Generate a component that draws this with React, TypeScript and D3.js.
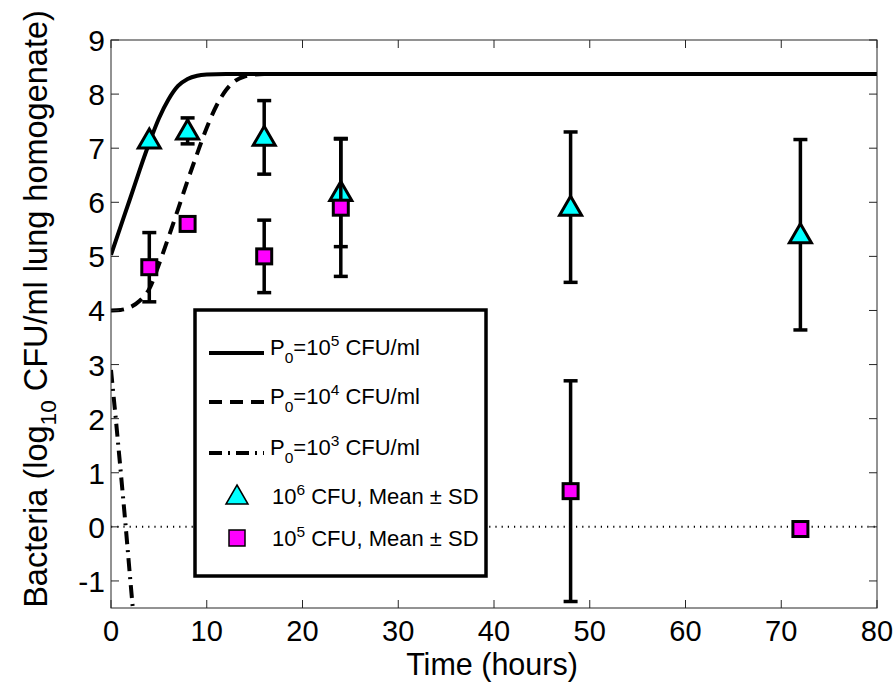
import React, { useEffect, useRef } from "react";
import * as d3 from "d3";

// ---- data ----
const xTicks = [0, 10, 20, 30, 40, 50, 60, 70, 80];
const yTicks = [-1, 0, 1, 2, 3, 4, 5, 6, 7, 8, 9];

// model curves
const solidT = [0, 1, 2, 3, 4, 5, 6, 7, 8, 9, 10, 12, 80];
const solidY = [5.03, 5.55, 6.07, 6.6, 7.1, 7.55, 7.9, 8.15, 8.28, 8.34, 8.36, 8.37, 8.37];
const dashedT = [0, 1, 2, 3, 4, 5, 6, 7, 8, 9, 10, 11, 12, 13, 14, 15, 16, 80];
const dashedY = [4.0, 4.01, 4.06, 4.18, 4.4, 4.85, 5.35, 5.87, 6.4, 6.9, 7.38, 7.78, 8.07, 8.25, 8.33, 8.36, 8.37, 8.37];
const dashDotT = [0, 0.5, 1, 1.5, 2, 2.3];
const dashDotY = [2.9, 2.0, 1.05, 0.08, -0.95, -1.55];

// observed data
const obsTimes = [4, 8, 16, 24, 48, 72];
const triMean = [7.15, 7.32, 7.2, 6.18, 5.91, 5.4];
const triSD = [0.0, 0.24, 0.68, 1.0, 1.39, 1.76];
const sqMean = [4.8, 5.6, 5.0, 5.9, 0.66, -0.04];
const sqSD = [0.64, 0.0, 0.67, 1.27, 2.04, 0.0];

const legendLabels = [
  { base: "10", sup: "5" },
  { base: "10", sup: "4" },
  { base: "10", sup: "3" },
];
const markerLabels = [
  { sup: "6", rest: " CFU, Mean \u00b1 SD" },
  { sup: "5", rest: " CFU, Mean \u00b1 SD" },
];

const W = 893;
const H = 683;
const M = { left: 111, right: 877, top: 40, bottom: 608 };
const FONT = "'Liberation Sans', Arial, Helvetica, sans-serif";

export default function App() {
  const ref = useRef<SVGSVGElement | null>(null);

  useEffect(() => {
    const svg = d3.select(ref.current);
    svg.selectAll("*").remove();

    const x = d3.scaleLinear().domain([0, 80]).range([M.left, M.right]);
    const y = d3.scaleLinear().domain([-1.5, 9]).range([M.bottom, M.top]);

    svg.append("rect").attr("width", W).attr("height", H).attr("fill", "white");

    const defs = svg.append("defs");
    defs
      .append("clipPath")
      .attr("id", "plotclip")
      .append("rect")
      .attr("x", M.left)
      .attr("y", M.top)
      .attr("width", M.right - M.left)
      .attr("height", M.bottom - M.top);

    const plot = svg.append("g").attr("clip-path", "url(#plotclip)");

    const line = d3
      .line<[number, number]>()
      .x((d) => x(d[0]))
      .y((d) => y(d[1]))
      .curve(d3.curveMonotoneX);

    const zip = (a: number[], b: number[]) => a.map((v, i) => [v, b[i]] as [number, number]);

    // dotted zero line
    plot
      .append("line")
      .attr("x1", x(0))
      .attr("x2", x(80))
      .attr("y1", y(0))
      .attr("y2", y(0))
      .attr("stroke", "#000")
      .attr("stroke-width", 2)
      .attr("stroke-dasharray", "1.2,5");

    plot
      .append("path")
      .attr("d", line(zip(solidT, solidY)))
      .attr("fill", "none")
      .attr("stroke", "#000")
      .attr("stroke-width", 4);
    plot
      .append("path")
      .attr("d", line(zip(dashedT, dashedY)))
      .attr("fill", "none")
      .attr("stroke", "#000")
      .attr("stroke-width", 4)
      .attr("stroke-dasharray", "13,8");
    plot
      .append("path")
      .attr("d", d3.line<[number, number]>().x((d) => x(d[0])).y((d) => y(d[1]))(zip(dashDotT, dashDotY)))
      .attr("fill", "none")
      .attr("stroke", "#000")
      .attr("stroke-width", 4)
      .attr("stroke-dasharray", "13,6,2,6");

    // error bars + markers
    const drawErr = (means: number[], sds: number[]) => {
      obsTimes.forEach((t, i) => {
        const sd = sds[i];
        if (sd <= 0) return;
        const cx = x(t);
        const g = plot.append("g").attr("stroke", "#000").attr("stroke-width", 3.5);
        g.append("line").attr("x1", cx).attr("x2", cx).attr("y1", y(means[i] - sd)).attr("y2", y(means[i] + sd));
        [means[i] - sd, means[i] + sd].forEach((v) => {
          g.append("line").attr("x1", cx - 7).attr("x2", cx + 7).attr("y1", y(v)).attr("y2", y(v));
        });
      });
    };

    drawErr(triMean, triSD);
    obsTimes.forEach((t, i) => {
      const cx = x(t);
      const cy = y(triMean[i]);
      plot
        .append("path")
        .attr("d", `M${cx},${cy - 11} L${cx + 11},${cy + 8} L${cx - 11},${cy + 8} Z`)
        .attr("fill", "#00ffff")
        .attr("stroke", "#000")
        .attr("stroke-width", 3);
    });
    drawErr(sqMean, sqSD);
    obsTimes.forEach((t, i) => {
      const cx = x(t);
      const cy = y(sqMean[i]);
      plot
        .append("rect")
        .attr("x", cx - 7.5)
        .attr("y", cy - 7.5)
        .attr("width", 15)
        .attr("height", 15)
        .attr("fill", "#ff00ff")
        .attr("stroke", "#000")
        .attr("stroke-width", 3);
    });

    // axes box
    const axisColor = "#262626";
    svg
      .append("rect")
      .attr("x", M.left)
      .attr("y", M.top)
      .attr("width", M.right - M.left)
      .attr("height", M.bottom - M.top)
      .attr("fill", "none")
      .attr("stroke", axisColor)
      .attr("stroke-width", 1);

    const tickLen = 8;
    xTicks.forEach((t) => {
      const px = x(t);
      svg.append("line").attr("x1", px).attr("x2", px).attr("y1", M.bottom).attr("y2", M.bottom - tickLen).attr("stroke", axisColor);
      svg.append("line").attr("x1", px).attr("x2", px).attr("y1", M.top).attr("y2", M.top + tickLen).attr("stroke", axisColor);
      svg
        .append("text")
        .attr("x", px)
        .attr("y", 641)
        .attr("text-anchor", "middle")
        .attr("font-family", FONT)
        .attr("font-size", 29)
        .text(String(t));
    });
    yTicks.forEach((t) => {
      const py = y(t);
      svg.append("line").attr("x1", M.left).attr("x2", M.left + tickLen).attr("y1", py).attr("y2", py).attr("stroke", axisColor);
      svg.append("line").attr("x1", M.right).attr("x2", M.right - tickLen).attr("y1", py).attr("y2", py).attr("stroke", axisColor);
      svg
        .append("text")
        .attr("x", M.left - 6)
        .attr("y", py + 11)
        .attr("text-anchor", "end")
        .attr("font-family", FONT)
        .attr("font-size", 30)
        .text(String(t));
    });

    // axis titles
    svg
      .append("text")
      .attr("x", 492)
      .attr("y", 675)
      .attr("text-anchor", "middle")
      .attr("font-family", FONT)
      .attr("font-size", 30.5)
      .text("Time (hours)");

    const yl = svg
      .append("text")
      .attr("transform", `translate(47,${309}) rotate(-90)`)
      .attr("text-anchor", "middle")
      .attr("font-family", FONT)
      .attr("font-size", 32.5);
    yl.append("tspan").text("Bacteria (log");
    yl.append("tspan").attr("font-size", 22.5).attr("dy", 9).text("10");
    yl.append("tspan").attr("dy", -9).text(" CFU/ml lung homogenate)");

    // legend
    const lg = svg.append("g");
    lg.append("rect")
      .attr("x", 195)
      .attr("y", 310)
      .attr("width", 291)
      .attr("height", 266)
      .attr("fill", "white")
      .attr("stroke", "#000")
      .attr("stroke-width", 3.5);

    const rows = [353, 402, 453];
    const dashes = [null, "13,8", "13,6,2,6"];
    legendLabels.forEach((lab, i) => {
      const ly = rows[i];
      const l = lg
        .append("line")
        .attr("x1", 209)
        .attr("x2", 264)
        .attr("y1", ly)
        .attr("y2", ly)
        .attr("stroke", "#000")
        .attr("stroke-width", 4);
      if (dashes[i]) l.attr("stroke-dasharray", dashes[i] as string);
      const tx = lg
        .append("text")
        .attr("x", 270)
        .attr("y", ly + 2)
        .attr("font-family", FONT)
        .attr("font-size", 22);
      tx.append("tspan").text("P");
      tx.append("tspan").attr("font-size", 15.5).attr("dy", 8).text("0");
      tx.append("tspan").attr("dy", -8).text("=" + lab.base);
      tx.append("tspan").attr("font-size", 15.5).attr("dy", -9).text(lab.sup);
      tx.append("tspan").attr("dy", 9).text(" CFU/ml");
    });

    const mrows = [496, 538];
    {
      const cx = 237;
      const cy = mrows[0];
      lg.append("path")
        .attr("d", `M${cx},${cy - 11} L${cx + 11},${cy + 8} L${cx - 11},${cy + 8} Z`)
        .attr("fill", "#00ffff")
        .attr("stroke", "#000")
        .attr("stroke-width", 1.5);
      lg.append("rect")
        .attr("x", cx - 8)
        .attr("y", mrows[1] - 8)
        .attr("width", 16)
        .attr("height", 16)
        .attr("fill", "#ff00ff")
        .attr("stroke", "#000")
        .attr("stroke-width", 1.5);
    }
    markerLabels.forEach((lab, i) => {
      const ly = mrows[i];
      const tx = lg
        .append("text")
        .attr("x", 272)
        .attr("y", ly + 8)
        .attr("font-family", FONT)
        .attr("font-size", 22);
      tx.append("tspan").text("10");
      tx.append("tspan").attr("font-size", 15.5).attr("dy", -9).text(lab.sup);
      tx.append("tspan").attr("dy", 9).text(lab.rest);
    });
  }, []);

  return (
    <div style={{ position: "absolute", left: 0, top: 0 }}>
      <svg ref={ref} width={W} height={H} style={{ display: "block" }} />
    </div>
  );
}
